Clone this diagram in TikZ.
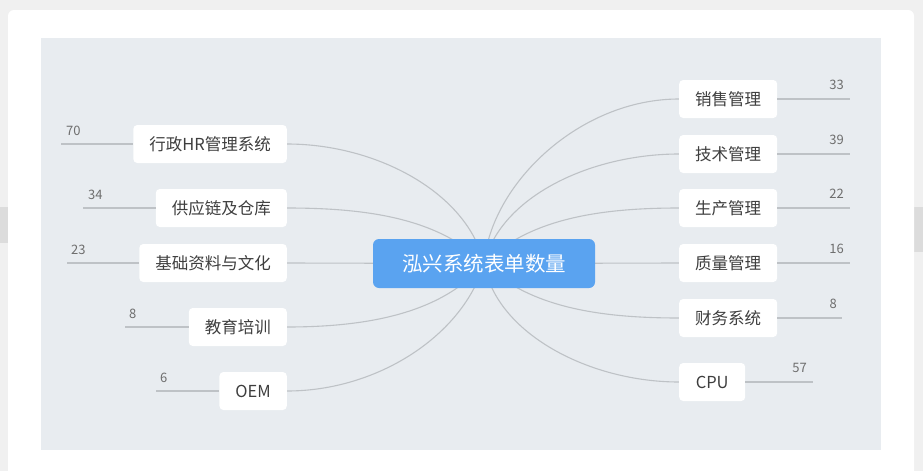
\documentclass[tikz,border=0pt]{standalone}
\usepackage{fontspec}
\setmainfont{Noto Sans CJK SC}
\definecolor{pagegray}{HTML}{F0F0F0}
\definecolor{stripgray}{HTML}{DCDCDC}
\definecolor{panelgray}{HTML}{E8ECF0}
\definecolor{rootblue}{HTML}{5AA3F0}
\definecolor{linkgray}{HTML}{BEC2C6}
\definecolor{textgray}{HTML}{3E3E3E}
\definecolor{countgray}{HTML}{6E6E6E}
\pgfdeclarelayer{back}
\pgfsetlayers{back,main}
\begin{document}
\begin{tikzpicture}[x=1pt, y=-1pt,
    leaf/.style={rectangle, rounded corners=4pt, fill=white, text=textgray, font=\fontsize{16.5}{20}\selectfont, minimum height=38pt, inner xsep=16pt},
    root/.style={rectangle, rounded corners=6pt, fill=rootblue, text=white, font=\fontsize{20.5}{24}\selectfont, minimum width=222pt, minimum height=49pt},
    link/.style={linkgray, line width=1.1pt},
    branch/.style={link, out looseness=0.8},
    count/.style={text=countgray, font=\fontsize{13}{15}\selectfont, inner sep=0pt}]
  \useasboundingbox (0,0) rectangle (923,471);
  \begin{pgfonlayer}{back}
    % screen around the map
    \fill[pagegray] (0,0) rectangle (923,471);
    \fill[stripgray] (0,207) rectangle (8,243);
    \fill[stripgray] (914,207) rectangle (923,252);
    \fill[white, rounded corners=6pt] (8,10) rectangle (914,490);
    \fill[panelgray] (41,38) rectangle (881,450);
  \end{pgfonlayer}

  \node[root] at (484,263.5) (root) {泓兴系统表单数量};

  % left side
  \node[leaf, anchor=east] at (287,144) (hr) {行政HR管理系统};
  \node[leaf, anchor=east] at (287,208) (supply) {供应链及仓库};
  \node[leaf, anchor=east] at (287,263) (basic) {基础资料与文化};
  \node[leaf, anchor=east] at (287,327) (training) {教育培训};
  \node[leaf, anchor=east] at (287,391) (oem) {OEM};

  % right side
  \node[leaf, anchor=west] at (679,99) (sales) {销售管理};
  \node[leaf, anchor=west] at (679,154) (tech) {技术管理};
  \node[leaf, anchor=west] at (679,208) (production) {生产管理};
  \node[leaf, anchor=west] at (679,263) (quality) {质量管理};
  \node[leaf, anchor=west] at (679,318) (finance) {财务系统};
  \node[leaf, anchor=west, minimum width=66pt, inner xsep=8pt] at (679,382) (cpu) {CPU};

  % angles are on the page, y up
  \begin{pgfonlayer}{back}
    \draw[branch] (root.center) to[out=103, in=0] (hr.east);
    \draw[branch] (root.center) to[out=135, in=0] (supply.east);
    \draw[link] (root.center) -- (basic.east);
    \draw[branch] (root.center) to[out=-130, in=0] (training.east);
    \draw[branch] (root.center) to[out=-106, in=0] (oem.east);
    \draw[branch] (root.center) to[out=85, in=180] (sales.west);
    \draw[branch] (root.center) to[out=76, in=180] (tech.west);
    \draw[branch] (root.center) to[out=45, in=180] (production.west);
    \draw[link] (root.center) -- (quality.west);
    \draw[branch] (root.center) to[out=-44, in=180] (finance.west);
    \draw[branch] (root.center) to[out=-80, in=180] (cpu.west);
  \end{pgfonlayer}

  % counts
  \coordinate (hrtail) at (61,144);
  \coordinate (supplytail) at (83,208);
  \coordinate (basictail) at (67,263);
  \coordinate (trainingtail) at (125,327);
  \coordinate (oemtail) at (156,391);
  \coordinate (salestail) at (850,99);
  \coordinate (techtail) at (850,154);
  \coordinate (productiontail) at (850,208);
  \coordinate (qualitytail) at (850,263);
  \coordinate (financetail) at (842,318);
  \coordinate (cputail) at (813,382);
  \foreach \n in {hr,supply,basic,training,oem} {
    \draw[link] (\n tail) -- (\n.west);
  }
  \foreach \n in {sales,tech,production,quality,finance,cpu} {
    \draw[link] (\n.east) -- (\n tail);
  }
  \node[count, anchor=base west] at (66,135) (hrcount) {70};
  \node[count, anchor=base west] at (88,199) (supplycount) {34};
  \node[count, anchor=base west] at (71,254) (basiccount) {23};
  \node[count, anchor=base west] at (129,318) (trainingcount) {8};
  \node[count, anchor=base west] at (160,382) (oemcount) {6};
  \node[count, anchor=base east] at (844,89) (salescount) {33};
  \node[count, anchor=base east] at (844,144) (techcount) {39};
  \node[count, anchor=base east] at (844,198) (productioncount) {22};
  \node[count, anchor=base east] at (844,253) (qualitycount) {16};
  \node[count, anchor=base east] at (837,308) (financecount) {8};
  \node[count, anchor=base east] at (807,372) (cpucount) {57};
\end{tikzpicture}
\end{document}
